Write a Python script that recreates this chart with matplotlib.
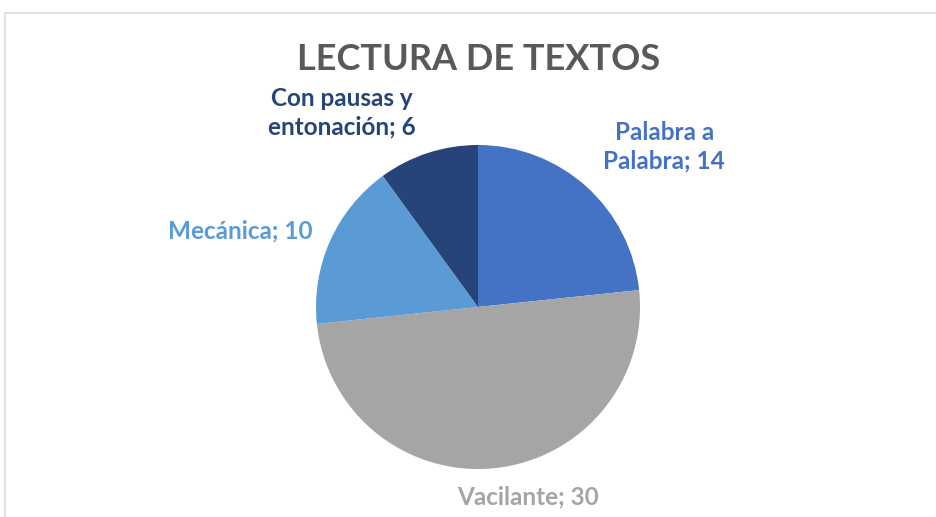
import matplotlib
matplotlib.use("Agg")
import matplotlib.pyplot as plt
from matplotlib.patches import Rectangle

labels = ["Palabra a\nPalabra", "Vacilante", "Mecánica", "Con pausas y\nentonación"]
values = [14, 30, 10, 6]
colors = ["#4472C4", "#A5A5A5", "#5B9BD5", "#264478"]
label_pos = [(1.15, 0.99), (0.31, -1.17), (-1.47, 0.47), (-0.84, 1.20)]

plt.rcParams['font.family'] = ['Lato', 'DejaVu Sans']

fig = plt.figure(figsize=(9.36, 5.17), dpi=100)
fig.patch.set_facecolor("white")

# chart border
fig.add_artist(Rectangle((5 / 936, -0.01), 1.0, (517 - 12.5) / 517 + 0.01,
                         transform=fig.transFigure, fill=False,
                         edgecolor="#D9D9D9", linewidth=1.2))

fig.text(479 / 936, 1 - 59 / 517, "LECTURA DE TEXTOS", ha="center", va="center",
         fontsize=26, fontweight="bold", color="#595959")

ax = fig.add_axes([316 / 936, (517 - 469) / 517, 324 / 936, 324 / 517])
ax.pie(values, colors=colors, startangle=90, counterclock=False, radius=1.0,
       wedgeprops=dict(linewidth=0))
ax.set_xlim(-1, 1)
ax.set_ylim(-1, 1)
ax.set_aspect("equal")
ax.axis("off")

for lab, v, c, (x, y) in zip(labels, values, colors, label_pos):
    ax.text(x, y, f"{lab}; {v}", ha="center", va="center", fontsize=17.5,
            fontweight="bold", color=c, clip_on=False, linespacing=1.25)

fig.savefig("out.png", dpi=100)
